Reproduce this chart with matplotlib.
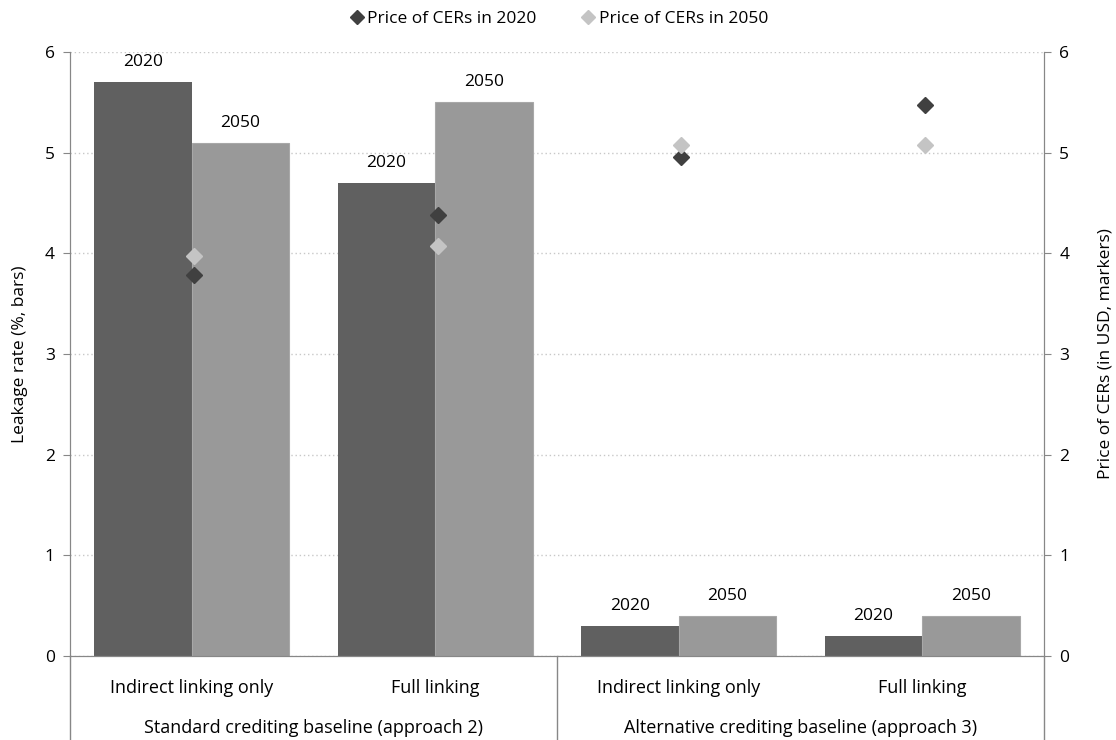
import matplotlib.pyplot as plt
import matplotlib.transforms as mtransforms
from matplotlib.lines import Line2D
import numpy as np

plt.rcParams['font.family'] = ['Open Sans', 'DejaVu Sans']

categories = ['Indirect linking only', 'Full linking', 'Indirect linking only', 'Full linking']
groups = ['Standard crediting baseline (approach 2)', 'Alternative crediting baseline (approach 3)']
leak_2020 = [5.7, 4.7, 0.3, 0.2]
leak_2050 = [5.1, 5.5, 0.4, 0.4]
price_2020 = [3.78, 4.38, 4.96, 5.47]
price_2050 = [3.97, 4.07, 5.08, 5.08]

dark = '#606060'
light = '#999999'
axis_col = '#878787'

fig = plt.figure(figsize=(11.16, 7.4), dpi=100)
ax = fig.add_axes([0.0627, 0.1135, 0.8728, 0.8162])
ax2 = ax.twinx()

x = np.arange(len(categories))
w = 0.4
ax.bar(x - w / 2, leak_2020, w, color=dark, zorder=2)
ax.bar(x + w / 2, leak_2050, w, color=light, edgecolor='#a8a8a8', linewidth=0.8, zorder=2)
for xi, v in zip(x, leak_2020):
    ax.text(xi - w / 2, v + 0.12, '2020', ha='center', va='bottom', fontsize=12.5)
for xi, v in zip(x, leak_2050):
    ax.text(xi + w / 2, v + 0.12, '2050', ha='center', va='bottom', fontsize=12.5)

ax2.plot(x + 0.01, price_2020, 'D', color='#404040', markersize=8, linestyle='none', zorder=3)
ax2.plot(x + 0.01, price_2050, 'D', color='#c4c4c4', markersize=8.5, linestyle='none', zorder=4)

for a in (ax, ax2):
    a.set_ylim(0, 6)
    a.set_yticks(range(7))
    a.spines['top'].set_visible(False)
    for s in ('left', 'right', 'bottom'):
        a.spines[s].set_color(axis_col)
    a.tick_params(axis='y', colors=axis_col, labelcolor='black', labelsize=12.5, length=5, pad=6)
ax.set_xlim(-0.5, 3.5)
ax.set_xticks([])
ax.yaxis.grid(True, linestyle=(0, (1, 2)), color='#c8c8c8', linewidth=1)
ax.set_axisbelow(True)
ax.set_ylabel('Leakage rate (%, bars)', fontsize=12.5, labelpad=12)
ax2.set_ylabel('Price of CERs (in USD, markers)', fontsize=12.5, labelpad=20)

trans = mtransforms.blended_transform_factory(ax.transData, ax.transAxes)
for xi, c in zip(x, categories):
    ax.text(xi, -0.053, c, transform=trans, ha='center', va='center', fontsize=13)
for gi, g in enumerate(groups):
    ax.text(2 * gi + 0.5, -0.119, g, transform=trans, ha='center', va='center', fontsize=13)
for xb in (-0.5, 1.5, 3.5):
    ax.add_line(Line2D([xb, xb], [0, -0.15], transform=trans, color=axis_col,
                       linewidth=1, clip_on=False))

handles = [Line2D([], [], marker='D', color='#404040', linestyle='none', markersize=7),
           Line2D([], [], marker='D', color='#c4c4c4', linestyle='none', markersize=7)]
fig.legend(handles, ['Price of CERs in 2020', 'Price of CERs in 2050'], loc='center',
           bbox_to_anchor=(0.5, 0.975), ncol=2, frameon=False, fontsize=12.5,
           handletextpad=0.1, columnspacing=2.5, handlelength=1)

fig.savefig('out.png', dpi=100)
